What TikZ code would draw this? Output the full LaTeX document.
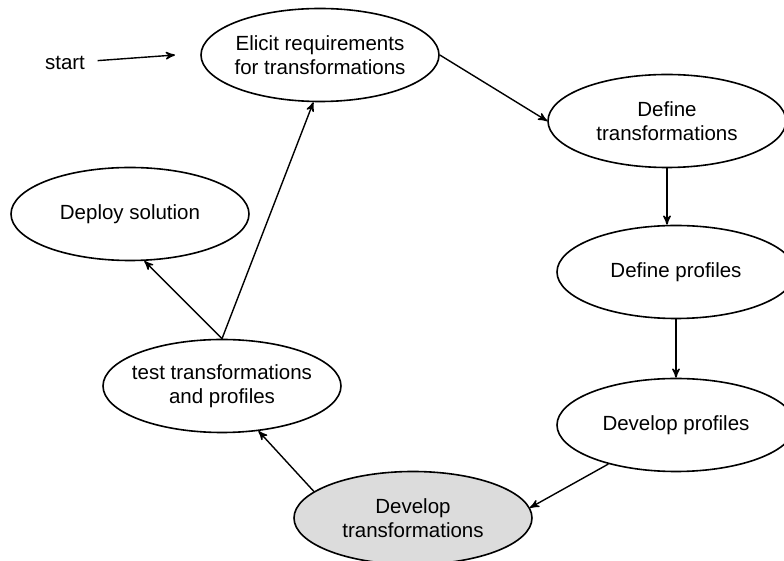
\documentclass[tikz,border=0pt]{standalone}
\usepackage{fontspec}
\setmainfont{Liberation Sans}
\usetikzlibrary{shapes.geometric, arrows}
\definecolor{stagegray}{RGB}{220,220,220}

\begin{document}
\begin{tikzpicture}[>=stealth', x=0.5pt, y=-0.5pt, line width=0.7pt,
        font=\fontsize{10.25}{12}\selectfont,
        stage/.style={draw, ellipse, line width=0.8pt, minimum width=119pt,
                      minimum height=46.5pt, inner xsep=-12pt, align=center}]
        \useasboundingbox (0,0) rectangle (784,561);
        % stages of the process
        \node[stage](elicit) at (320,55) {Elicit requirements\\for transformations};
        \node[stage](deftrans) at (667,121) {Define\\transformations};
        \node[stage](defprof) at (676,272) {Define profiles};
        \node[stage](devprof) at (676,425) {Develop profiles};
        \node[stage,fill=stagegray](devtrans) at (413,518) {Develop\\transformations};
        \node[stage](test) at (222,386) {test transformations\\and profiles};
        \node[stage](deploy) at (130,214) {Deploy solution};
        % entry point
        \node[inner xsep=6pt](start) at (65,63) {start};
        \coordinate (start_in) at (175,55);
        \path[->]	(start)	edge	(start_in)
        			(elicit.east)	edge	(deftrans.west)
        			(deftrans.south)	edge	(deftrans.south |- defprof.north)
        			(defprof.south)	edge	(devprof.north)
        			(devprof.210)	edge	(devtrans.5)
        			(devtrans.165)	edge	(test.309)
        			(test.north)	edge	(deploy.287)
        					edge	(elicit.262);
\end{tikzpicture}
\end{document}
